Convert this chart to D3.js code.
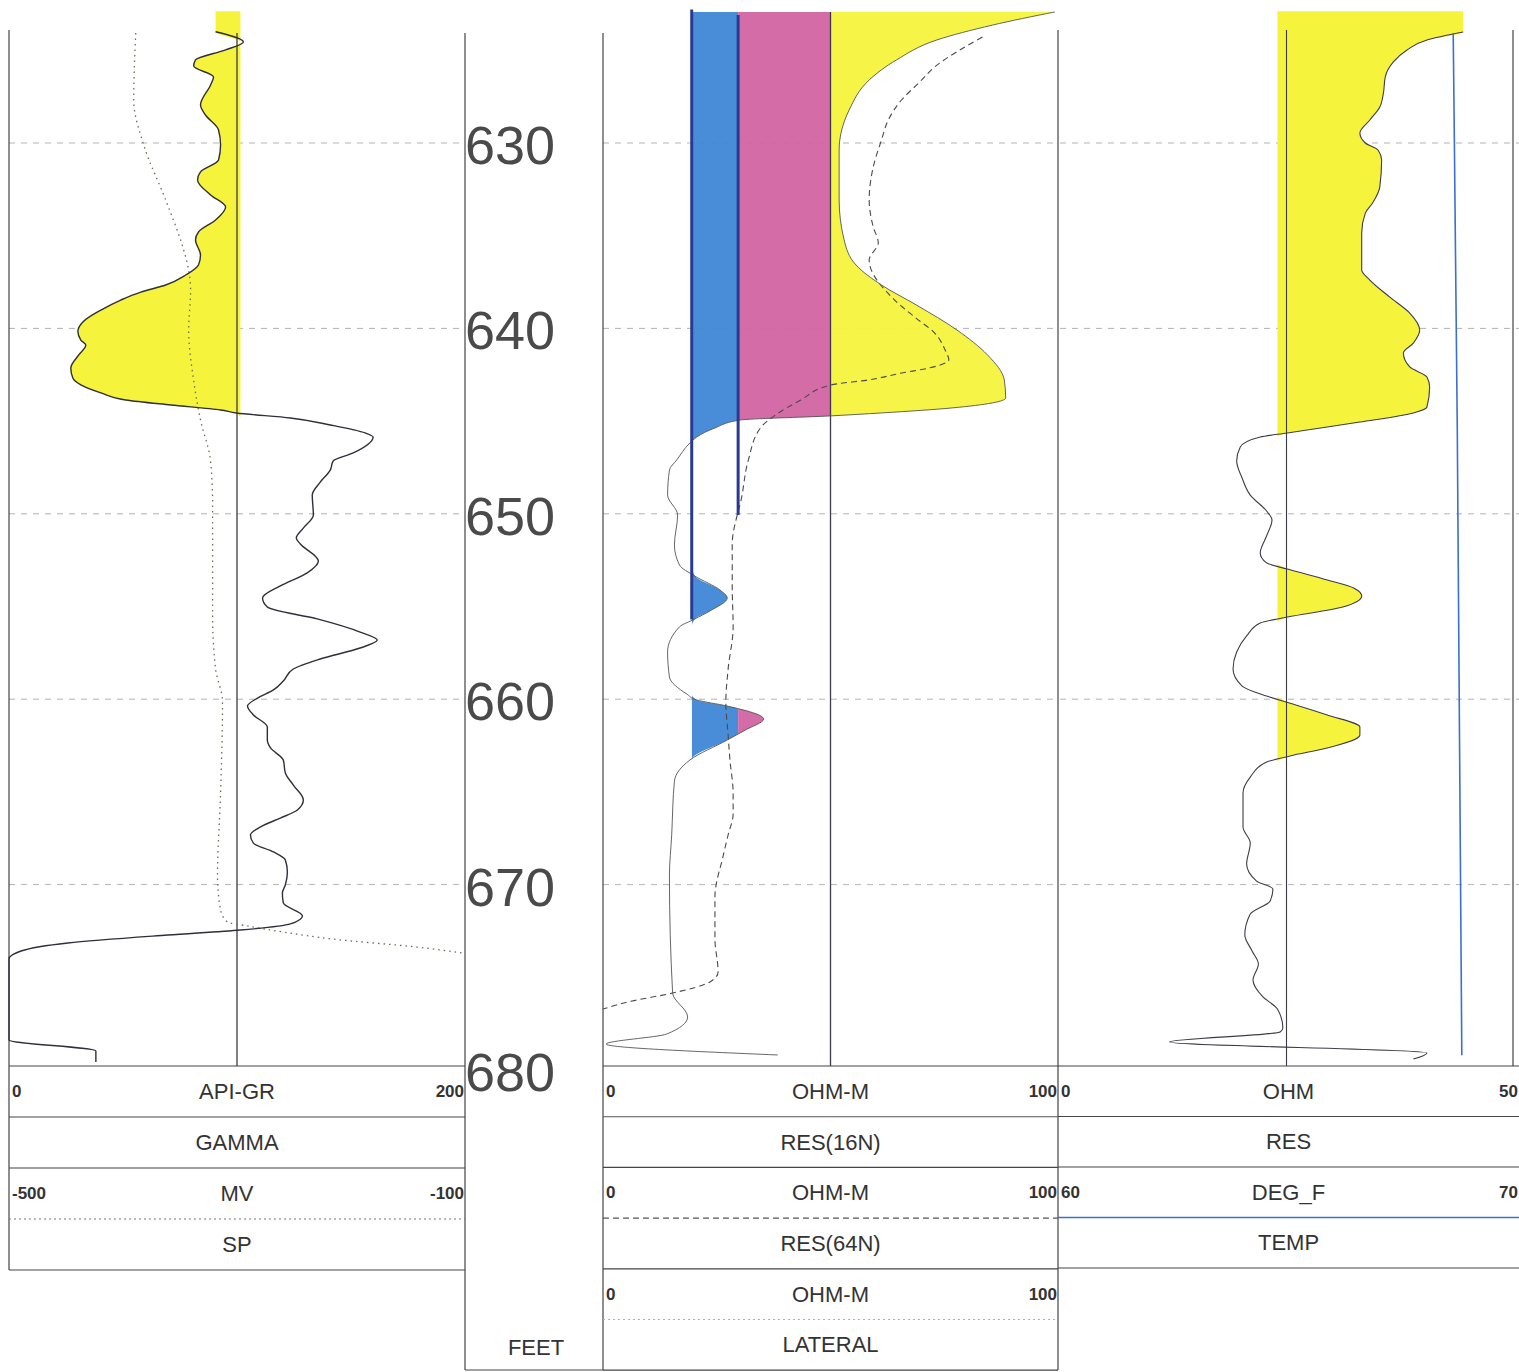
<!DOCTYPE html>
<html><head><meta charset="utf-8">
<script src="https://cdn.jsdelivr.net/npm/d3@7"></script>
<style>
body{margin:0;background:#fff;}
text{font-family:"Liberation Sans",Arial,sans-serif;fill:#333;}
.lbl{font-size:22px;}
.num{font-size:17px;font-weight:bold;}
.dep{font-size:54px;fill:#4a4a4a;}
</style>
</head><body>
<svg id="c" width="1519" height="1372"></svg>
<script>
// ---------------- DATA ----------------
const depthTicks = [630, 640, 650, 660, 670, 680];

const gammaDepth = [624.0,624.55,624.98,625.52,625.85,626.44,626.87,627.95,628.49,629.30,630.11,630.92,631.56,631.99,632.80,633.45,634.15,634.80,635.23,636.04,636.58,637.12,637.66,638.04,638.47,639.01,639.65,640.16,640.63,640.90,641.43,642.14,642.68,643.05,643.48,643.86,644.13,644.40,644.56,644.83,645.21,645.64,645.86,646.72,647.15,647.64,648.29,648.99,650.06,650.77,651.31,651.63,652.55,653.19,653.89,654.54,655.03,655.67,656.38,656.81,657.24,657.83,658.37,659.02,659.50,659.94,660.37,660.85,661.50,662.20,662.63,663.28,663.98,664.63,665.44,665.98,666.41,666.89,667.32,667.76,668.24,668.67,669.32,670.02,670.45,670.99,671.69,672.12,672.45,672.72,673.15,673.58,674.01,678.38,678.98,679.57];
const gammaApi = [90.6,102.8,95.0,81.8,81.0,89.7,88.4,84.0,86.2,91.9,92.8,91.9,84.0,82.7,88.4,95.0,90.6,83.1,81.8,84.0,83.1,77.5,68.7,57.8,49.0,40.3,32.4,30.2,31.5,33.7,30.6,27.1,28.0,31.5,40.3,51.2,70.9,92.8,99.8,123.4,140.9,156.2,159.7,151.0,142.2,140.9,136.5,133.0,133.5,129.1,126.0,127.8,135.7,130.8,119.0,111.2,113.3,135.2,154.0,161.5,154.0,136.5,124.7,120.3,116.0,109.0,104.6,107.2,113.3,113.3,114.7,120.3,121.2,124.7,129.1,126.5,119.0,110.3,105.9,107.2,116.0,121.2,122.1,121.2,119.9,120.3,128.7,123.4,101.5,69.6,25.8,5.3,0,0,38.1,38.1];

const spDepth = [624.07,627.68,630.11,633.07,635.77,636.85,637.93,640.09,642.78,644.94,647.15,649.42,655.46,658.37,660.15,665.06,669.54,671.37,672.02,672.23,672.56,672.94,673.37,673.69];
const spMv = [-388.8,-390.6,-381.8,-362.6,-346.8,-342.4,-340.7,-342.4,-338.1,-332.0,-323.2,-321.4,-321.4,-318.8,-312.7,-314.4,-317.1,-314.4,-308.3,-290.8,-259.3,-215.5,-142.0,-101.7];

const res16Depth = [622.93,623.64,624.44,625.52,626.60,628.22,630.38,633.07,635.23,636.58,637.66,638.74,640.09,641.43,642.78,643.75,644.29,644.56,644.72,644.94,645.37,645.86,646.18,647.10,647.64,648.99,650.06,651.68,652.76,653.36,654.11,654.54,655.24,655.67,656.10,657.45,658.80,659.72,660.04,660.37,661.07,661.66,662.20,663.28,664.41,667.32,669.54,675.85,677.14,678.06,678.60,679.19];
const res16Ohm = [99.3,85.6,73.4,64.5,58.5,54.1,51.9,51.9,53.0,55.6,61.2,68.9,77.8,84.5,88.2,88.5,76.7,61.2,49.9,30.2,24.6,20.6,19.1,16.2,14.6,14.2,16.4,15.7,16.8,20.2,25.7,27.3,23.5,20.2,16.8,14.2,14.6,18.4,20.6,27.3,35.3,31.3,27.3,19.1,15.7,15.1,14.6,15.3,18.6,14.0,0.7,38.4];

const res64Depth = [624.28,625.90,626.76,627.68,628.76,629.84,631.29,633.07,634.53,635.39,636.31,638.47,639.39,640.25,641.17,641.70,642.14,642.41,642.78,643.05,643.86,644.67,645.37,647.15,649.42,650.06,651.63,653.89,656.11,658.37,660.15,661.93,663.28,665.06,666.19,667.32,668.46,670.67,672.93,674.71,675.25,675.85,676.28,676.71];
const res64Ohm = [83.4,72.9,69.4,65.6,62.7,61.2,59.4,58.5,59.4,60.5,58.5,64.1,68.5,72.9,75.2,76.0,71.6,65.6,58.3,50.1,43.5,37.9,34.6,31.9,30.2,29.5,28.4,28.4,28.6,27.5,27.0,27.5,27.9,28.6,28.6,27.5,26.4,24.6,24.6,25.3,23.5,15.3,6.4,0];

const resDepth = [624.01,624.44,624.98,625.63,626.44,627.30,628.06,628.76,629.46,630.00,630.38,630.92,632.37,633.24,633.78,634.85,636.85,637.39,638.31,639.17,640.09,640.79,641.33,642.08,642.62,643.16,644.24,644.56,645.05,645.32,645.64,645.86,646.40,647.15,648.07,648.99,649.85,650.33,651.20,652.11,652.65,652.98,653.57,654.00,654.43,655.03,655.57,655.89,656.59,657.45,658.37,659.29,659.83,660.26,660.85,661.50,661.93,662.63,663.06,663.39,664.20,665.06,666.89,667.76,668.89,669.81,670.24,670.88,671.59,672.72,673.58,674.28,675.15,676.06,676.71,677.73,677.95,678.49,679.08,679.41];
const resOhm = [44.5,40.5,38.3,36.8,35.9,35.7,35.3,34.2,33.1,33.7,35.1,35.5,35.3,34.5,33.7,33.3,33.3,34.2,36.4,38.6,39.7,39.0,37.9,38.6,40.5,40.8,40.5,39.0,33.1,29.5,25.1,22.1,19.9,19.5,20.1,21.0,22.8,23.4,22.8,22.1,22.8,25.1,29.5,32.4,33.3,31.2,25.1,22.1,20.6,19.5,19.1,20.1,22.8,25.7,29.5,33.1,33.1,29.5,25.4,22.8,21.0,20.2,20.2,21.0,20.6,21.7,23.5,23.2,21.0,20.4,21.2,21.9,21.3,22.4,24.0,24.6,24.3,12.1,40.5,39.0];

const tempDepth = [624.07, 645.4, 679.2];
const tempDegF = [68.68, 68.77, 68.87];

// hand-drawn cutoff lines in the resistivity track (ohm-m) and their depth spans
const cutoffOhm = [19.5, 29.7];
const cutoffTop = [622.8, 623.1];
const cutoffBase = [655.7, 650.06];

// header texts
const grHeader = ["0", "API-GR", "200", "GAMMA"];
const spHeader = ["-500", "MV", "-100", "SP"];
const r16Header = ["0", "OHM-M", "100", "RES(16N)"];
const r64Header = ["0", "OHM-M", "100", "RES(64N)"];
const latHeader = ["0", "OHM-M", "100", "LATERAL"];
const resHeader = ["0", "OHM", "50", "RES"];
const tempHeader = ["60", "DEG_F", "70", "TEMP"];

// ---------------- LAYOUT ----------------
const svg = d3.select('#c');
const y = d3.scaleLinear().domain([630, 680]).range([143, 1070]);
const T1 = {x0: 9, x1: 465}, T2 = {x0: 603, x1: 1058}, T3 = {x0: 1060, x1: 1513};
const xGR = d3.scaleLinear().domain([0, 200]).range([T1.x0, T1.x1]);
const xSP = d3.scaleLinear().domain([-500, -100]).range([T1.x0, T1.x1]);
const xR2 = d3.scaleLinear().domain([0, 100]).range([T2.x0, T2.x1]);
const xR3 = d3.scaleLinear().domain([0, 50]).range([T3.x0, T3.x1]);
const xT = d3.scaleLinear().domain([60, 70]).range([T3.x0, T3.x1]);

const YELLOW = "#f6f33c", BLUE = "#3f86d6", PINK = "#d264a2";
const fillTop = 622.9;
const pts = (ds, vs) => d3.zip(ds, vs).map(([d, v]) => ({d, v}));
const gr = pts(gammaDepth, gammaApi), sp = pts(spDepth, spMv);
const r16 = pts(res16Depth, res16Ohm), r64 = pts(res64Depth, res64Ohm);
const r3 = pts(resDepth, resOhm), tp = pts(tempDepth, tempDegF);
const curve = d3.curveMonotoneY;

// gridlines
const gridG = svg.append('g');
[[T1.x0, T1.x1], [T2.x0, T2.x1], [T3.x0, 1519]].forEach(([a, b]) => {
  gridG.selectAll(null).data(depthTicks.filter(d => d < 680)).join('line')
    .attr('x1', a).attr('x2', b).attr('y1', d => y(d)).attr('y2', d => y(d))
    .attr('stroke', '#a0a0a0').attr('stroke-width', 0.8).attr('stroke-dasharray', '6,6');
});

// ---- Track 1 fill (GR below 100 API) ----
const grFillData = [{d: fillTop, v: gammaApi[0]}].concat(gr.filter(p => p.d <= 644.83));
svg.append('path').datum(grFillData)
  .attr('d', d3.area().y(d => y(d.d)).x0(d => xGR(Math.min(d.v, 101.5))).x1(xGR(101.5)).curve(curve))
  .attr('fill', YELLOW);

// ---- Track 2 banded fill ----
const defs = svg.append('defs');
const r16Fill = r16.filter(p => p.d <= 665);
defs.append('clipPath').attr('id', 'clip16').append('path').datum(r16Fill)
  .attr('d', d3.area().y(d => y(d.d)).x0(xR2(cutoffOhm[0])).x1(d => xR2(Math.max(d.v, cutoffOhm[0]))).curve(curve));
const bands = [[cutoffOhm[0], cutoffOhm[1], BLUE], [cutoffOhm[1], 50, PINK], [50, 100, YELLOW]];
svg.append('g').attr('clip-path', 'url(#clip16)').selectAll('rect').data(bands).join('rect')
  .attr('x', d => xR2(d[0])).attr('width', d => xR2(d[1]) - xR2(d[0]))
  .attr('y', y(fillTop)).attr('height', y(665) - y(fillTop))
  .attr('fill', d => d[2]).attr('opacity', 0.95);

// ---- Track 3 fill (RES above 25) ----
const r3Fill = [{d: fillTop, v: resOhm[0]}].concat(r3.filter(p => p.d <= 670));
svg.append('path').datum(r3Fill)
  .attr('d', d3.area().y(d => y(d.d)).x0(xR3(24)).x1(d => xR3(Math.max(d.v, 24))).curve(curve))
  .attr('fill', YELLOW);

// ---- borders & midlines ----
const ln = (x1, y1, x2, y2, w = 1.2, c = '#444') => svg.append('line')
  .attr('x1', x1).attr('y1', y1).attr('x2', x2).attr('y2', y2).attr('stroke', c).attr('stroke-width', w);
ln(T1.x0, 30, T1.x0, 1270);
ln(T1.x1, 33, T1.x1, 1370);
ln(T2.x0, 33, T2.x0, 1370);
ln(T2.x1, 30, T2.x1, 1370);
ln(T3.x1, 30, T3.x1, 1066);
ln(xGR(100), 33, xGR(100), 1066, 1.3, '#3a3a4a');
ln(xR2(50), 12, xR2(50), 1066, 1.3, '#3a3a4a');
ln(xR3(25), 30, xR3(25), 1066, 1.1, '#3a3a4a');
ln(465, 1370, 603, 1370);

// ---- curves ----
const line = xs => d3.line().x(d => xs(d.v)).y(d => y(d.d)).curve(curve);
svg.append('path').datum(sp).attr('d', line(xSP)).attr('fill', 'none')
  .attr('stroke', '#6d6d55').attr('stroke-width', 1.3).attr('stroke-dasharray', '1.5,4');
svg.append('path').datum(gr).attr('d', line(xGR)).attr('fill', 'none')
  .attr('stroke', '#2f2f3a').attr('stroke-width', 1.4);
svg.append('path').datum(r64).attr('d', line(xR2)).attr('fill', 'none')
  .attr('stroke', '#4a4a4a').attr('stroke-width', 1.1).attr('stroke-dasharray', '6,4');
svg.append('path').datum(r16).attr('d', line(xR2)).attr('fill', 'none')
  .attr('stroke', '#555').attr('stroke-width', 0.9);
svg.append('path').datum(r3).attr('d', line(xR3)).attr('fill', 'none')
  .attr('stroke', '#3c3c48').attr('stroke-width', 1.1);
svg.append('path').datum(tp).attr('d', line(xT)).attr('fill', 'none')
  .attr('stroke', '#3b6fd4').attr('stroke-width', 1.6);

// hand-drawn cutoff lines
svg.selectAll('.cut').data(d3.zip(cutoffOhm, cutoffTop, cutoffBase)).join('line')
  .attr('x1', d => xR2(d[0])).attr('x2', d => xR2(d[0]))
  .attr('y1', d => y(d[1])).attr('y2', d => y(d[2]))
  .attr('stroke', '#2a3a90').attr('stroke-width', 3);

// ---- depth labels ----
svg.selectAll('.dep').data(depthTicks).join('text').attr('class', 'dep')
  .attr('x', 465).attr('y', d => y(d) + 2).attr('dominant-baseline', 'central').text(d => d);
svg.append('text').attr('class', 'lbl').attr('x', 536).attr('y', 1347)
  .attr('text-anchor', 'middle').attr('dominant-baseline', 'central').text('FEET');

// ---- headers ----
function block(x0, x1, top, rh, t, legend) {
  const cx = (x0 + x1) / 2;
  svg.append('text').attr('class', 'num').attr('x', x0 + 3).attr('y', top + rh / 2).attr('dominant-baseline', 'central').text(t[0]);
  svg.append('text').attr('class', 'lbl').attr('x', cx).attr('y', top + rh / 2).attr('text-anchor', 'middle').attr('dominant-baseline', 'central').text(t[1]);
  svg.append('text').attr('class', 'num').attr('x', x1 - 1).attr('y', top + rh / 2).attr('text-anchor', 'end').attr('dominant-baseline', 'central').text(t[2]);
  const l = ln(x0, top + rh, x1, top + rh, legend.w, legend.c);
  if (legend.dash) l.attr('stroke-dasharray', legend.dash);
  svg.append('text').attr('class', 'lbl').attr('x', cx).attr('y', top + rh * 1.5).attr('text-anchor', 'middle').attr('dominant-baseline', 'central').text(t[3]);
  ln(x0, top + 2 * rh, x1, top + 2 * rh);
}
ln(T1.x0, 1066, T1.x1, 1066);
block(T1.x0, T1.x1, 1066, 51, grHeader, {w: 1.2, c: '#444'});
block(T1.x0, T1.x1, 1168, 51, spHeader, {w: 1.2, c: '#777', dash: '2,3'});
ln(T2.x0, 1066, T2.x1, 1066);
block(T2.x0, T2.x1, 1066, 50.7, r16Header, {w: 1.1, c: '#555'});
block(T2.x0, T2.x1, 1167.4, 50.7, r64Header, {w: 1.1, c: '#555', dash: '6,4'});
block(T2.x0, T2.x1, 1268.8, 50.7, latHeader, {w: 1.1, c: '#8fb6e0', dash: '2,3'});
ln(T2.x1, 1066, 1519, 1066);
block(T2.x1, 1519, 1066, 50.5, resHeader, {w: 1.1, c: '#444'});
block(T2.x1, 1519, 1167, 50.5, tempHeader, {w: 1.4, c: '#3b6fd4'});
</script>
</body></html>
